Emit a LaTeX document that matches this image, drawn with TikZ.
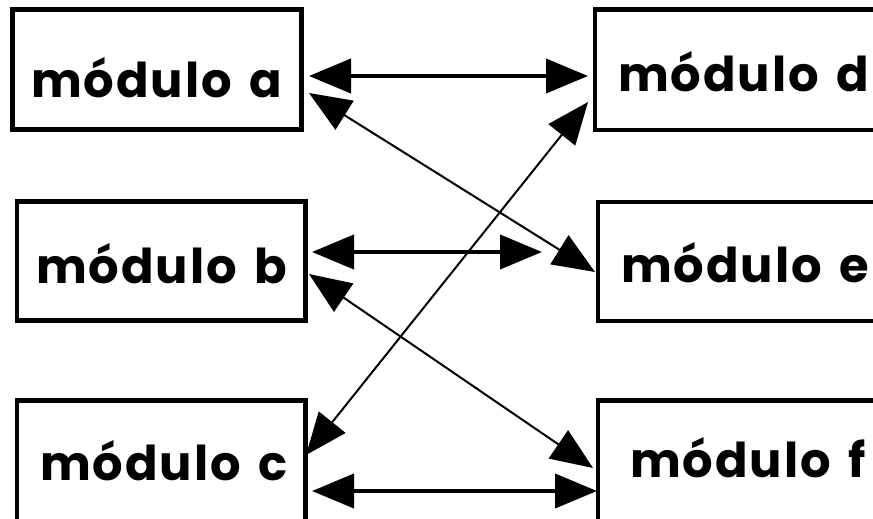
\documentclass[tikz,border=0pt]{standalone}
\usepackage{fontspec}
\newfontfamily\popfont{Poppins}[LetterSpace=4,WordSpace=1.5]
\usetikzlibrary{arrows.meta,calc}
\tikzset{
  box/.style={draw=black, line width=4.5pt, rectangle, inner sep=0pt, outer sep=0pt, fill=none},
  lbl/.style={anchor=base west, inner sep=0pt, outer sep=0pt, font=\popfont\bfseries\fontsize{48}{56}\selectfont},
  tip/.tip={Triangle[length=42pt,width=34pt]},
  thickarrow/.style={line width=4pt, tip-tip},
  thinarrow/.style={line width=2pt, tip-tip}
}
\begin{document}
\begin{tikzpicture}[x=1pt,y=-1pt]
\useasboundingbox (0,0) rectangle (873,519);
\clip (0,0) rectangle (873,519);
\fill[white] (0,0) rectangle (873,519);
% boxes
\node[box, minimum width=289pt, minimum height=120pt] (a) at (157,69.5) {};
\node[box, minimum width=288.5pt, minimum height=119pt] (b) at (161.25,261) {};
\node[box, minimum width=288.5pt, minimum height=159.5pt] (c) at (161.25,480.25) {};
\node[box, minimum width=355pt, minimum height=120.5pt] (d) at (772.5,69.75) {};
\node[box, minimum width=352pt, minimum height=119pt] (e) at (774,261.5) {};
\node[box, minimum width=352pt, minimum height=159.5pt] (f) at (774,480.25) {};
% labels
\node[lbl] (ta) at (31,97) {módulo a};
\node[lbl] (tb) at (36,283) {módulo b};
\node[lbl] (tc) at (40,480) {módulo c};
\node[lbl] (td) at (618,92) {módulo d};
\node[lbl] (te) at (621,282) {módulo e};
\node[lbl] (tf) at (630,477) {módulo f};
% horizontal arrows
\draw[thickarrow] ($(a.east)+(7.5,6.5)$) -- ($(d.west)+(-7,6.25)$);
\draw[thickarrow] ($(b.east)+(6.5,-9)$) -- ($(e.west)+(-56,-9.5)$);
\draw[thickarrow] ($(c.east)+(6.5,10.75)$) -- ($(f.west)+(-1,10.75)$);
% diagonal arrows
\draw[thinarrow] ($(a.east)+(7.5,23.5)$) -- ($(e.west)+(-3,10.5)$);
\draw[thinarrow] ($(d.west)+(-7,32.25)$) -- ($(c.east)+(0.5,-25.25)$);
\draw[thinarrow] ($(b.east)+(3.5,13)$) -- ($(f.west)+(-5,-12.25)$);
\end{tikzpicture}
\end{document}
